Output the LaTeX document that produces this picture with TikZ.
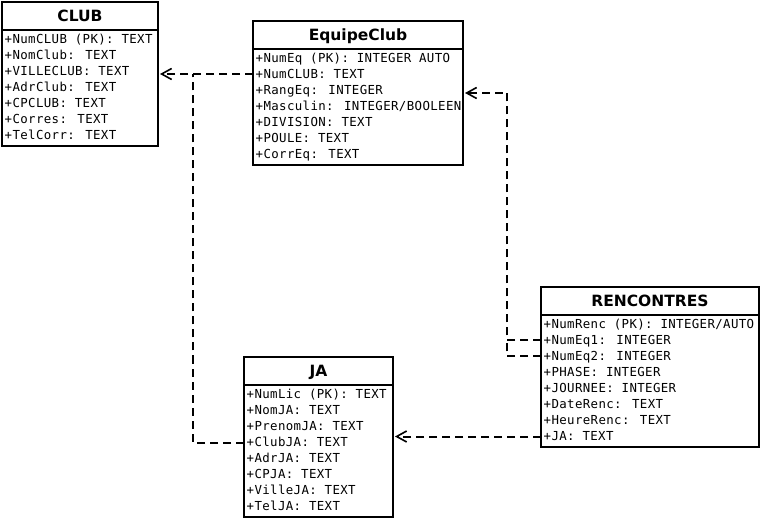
\documentclass[tikz,border=0pt]{standalone}
\usepackage{fontspec}
\usetikzlibrary{calc,arrows.meta}
\newfontfamily\hdrfont{DejaVu Sans}
\newfontfamily\attrfont{DejaVu Sans Mono}[LetterSpace=3]
\tikzset{
  tbox/.style={draw=black, line width=2.2pt, fill=white, inner sep=0pt, outer sep=0pt},
  ttitle/.style={inner sep=0pt, anchor=base, font=\hdrfont\bfseries\fontsize{15.5pt}{16pt}\selectfont},
  attr/.style={inner sep=0pt, anchor=west, text height=11pt, text depth=3pt, font=\attrfont\fontsize{12.4pt}{14pt}\selectfont},
  sepline/.style={line width=2.2pt},
  dep/.style={line width=2pt, dash pattern=on 8pt off 5pt},
  deparrow/.style={dep, -{Straight Barb[length=10pt,width=11pt,line width=1.6pt]}, shorten >=2pt}
}
\newcommand\umltable[7]{%
  \node[tbox, minimum width=#4pt, minimum height=#5pt, anchor=north west] (#1) at (#2,#3) {};
  \node[ttitle] (#1-t) at ($(#1.north)+(0,19.5)$) {#6};
  \draw[sepline] ($(#1.north west)+(0,28)$) -- ($(#1.north east)+(0,28)$);
  \foreach \t [count=\i] in {#7} {
    \node[attr] (#1-\i) at ($(#1.north west)+(2.5,21.5+16*\i)$) {\t};
  }
}
\begin{document}
\begin{tikzpicture}[x=1pt,y=-1pt]
\useasboundingbox (0,0) rectangle (760,518);
\umltable{club}{2}{2}{156}{144}{CLUB}{+NumCLUB (PK): TEXT,+NomClub: TEXT,+VILLECLUB: TEXT,+AdrClub: TEXT,+CPCLUB: TEXT,+Corres: TEXT,+TelCorr: TEXT}
\umltable{eq}{253}{21}{210}{144}{EquipeClub}{+NumEq (PK): INTEGER AUTO,+NumCLUB: TEXT,+RangEq: INTEGER,+Masculin: INTEGER/BOOLEEN,+DIVISION: TEXT,+POULE: TEXT,+CorrEq: TEXT}
\umltable{ren}{541}{287}{218}{160}{RENCONTRES}{+NumRenc (PK): INTEGER/AUTO,+NumEq1: INTEGER,+NumEq2: INTEGER,+PHASE: INTEGER,+JOURNEE: INTEGER,+DateRenc: TEXT,+HeureRenc: TEXT,+JA: TEXT}
\umltable{ja}{244}{357}{149}{160}{JA}{+NumLic (PK): TEXT,+NomJA: TEXT,+PrenomJA: TEXT,+ClubJA: TEXT,+AdrJA: TEXT,+CPJA: TEXT,+VilleJA: TEXT,+TelJA: TEXT}
\coordinate (j1) at ($(club.east)+(35,0)$);
\coordinate (j2) at ($(eq.east)+(44,0)$);
\draw[deparrow] (eq.west |- club.east) -- (club.east);
\draw[dep] (ja.west |- ja-4) -| (j1);
\draw[deparrow] (ren.west |- ren-2) -| (j2) -- (eq.east);
\draw[dep] (ren.west |- ren-3) -| (j2 |- ren-2);
\draw[deparrow] (ren.west |- ren-8) -- (ja.east |- ren-8);
\end{tikzpicture}
\end{document}
